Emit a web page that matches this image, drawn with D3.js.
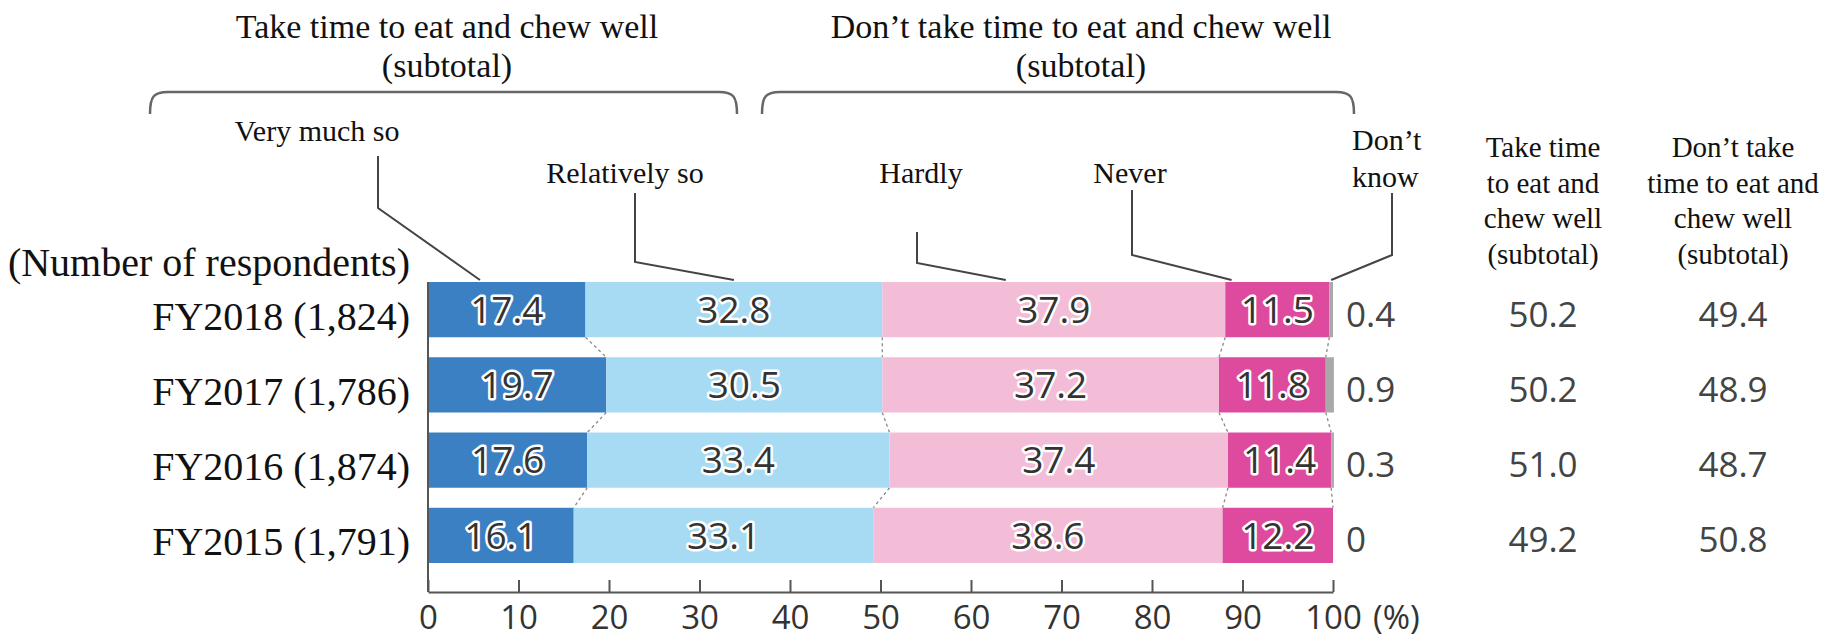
<!DOCTYPE html>
<html>
<head>
<meta charset="utf-8">
<script src="https://cdn.jsdelivr.net/npm/d3@7"></script>
<style>
body { margin: 0; background: #fff; }
.serif { font-family: "Times New Roman", "Liberation Serif", serif; fill: #111; }
.sans { font-family: "Open Sans", "Noto Sans", sans-serif; }
.barLabel { fill: #333; stroke: #fff; stroke-width: 5px; paint-order: stroke; stroke-linejoin: round; }
.leader { fill: none; stroke: #444; stroke-width: 2px; }
.bracket { fill: none; stroke: #666; stroke-width: 2.5px; }
</style>
</head>
<body>
<div id="chart"></div>
<script>
var years = ["FY2018 (1,824)", "FY2017 (1,786)", "FY2016 (1,874)", "FY2015 (1,791)"]

var seriesNames = ["Very much so", "Relatively so", "Hardly", "Never", "Don\u2019t know"]
var veryMuch = [17.4, 19.7, 17.6, 16.1]
var relatively = [32.8, 30.5, 33.4, 33.1]
var hardly = [37.9, 37.2, 37.4, 38.6]
var never = [11.5, 11.8, 11.4, 12.2]
var dontKnow = [0.4, 0.9, 0.3, 0]

var subtotalTake = [50.2, 50.2, 51.0, 49.2]
var subtotalDont = [49.4, 48.9, 48.7, 50.8]

var xTicks = [0, 10, 20, 30, 40, 50, 60, 70, 80, 90, 100]

var groupHeaders = ["Take time to eat and chew well", "Don\u2019t take time to eat and chew well"]
var colHeaders = [
	["Take time", "to eat and", "chew well", "(subtotal)"],
	["Don\u2019t take", "time to eat and", "chew well", "(subtotal)"]
]

function getColors(){
	return ["#3b80c3", "#a7dbf4", "#f3bdd8", "#de4a9e", "#a9a9a9"]
}

function fmt(v){
	return v === 0 ? "0" : v.toFixed(1)
}

function initChart(){
	var W = 1843, H = 643
	var svg = d3.select("#chart").append("svg").attr("width", W).attr("height", H)

	var x = d3.scaleLinear().domain([0, 100]).range([428, 1333])
	var y = d3.scaleBand().domain(years).range([282, 563]).paddingInner(0.266)
	var axisY = 592

	var seriesValues = [veryMuch, relatively, hardly, never, dontKnow]
	var rows = years.map(function(yr, i){
		var o = {year: yr}
		seriesNames.forEach(function(s, j){ o[s] = seriesValues[j][i] })
		return o
	})
	var stacked = d3.stack().keys(seriesNames)(rows)
	var colors = getColors()

	// dotted joins between bars
	var joins = svg.append("g")
	for(var k = 0; k < 4; k++){
		for(var i = 0; i < years.length - 1; i++){
			joins.append("line")
				.attr("x1", x(stacked[k][i][1]))
				.attr("y1", y(years[i]) + y.bandwidth())
				.attr("x2", x(stacked[k][i + 1][1]))
				.attr("y2", y(years[i + 1]))
				.style("stroke", "#888")
				.style("stroke-width", 1.3)
				.style("stroke-dasharray", "3,3")
		}
	}

	// bars
	var layers = svg.append("g").selectAll("g.layer")
		.data(stacked)
		.enter().append("g")
		.attr("class", "layer")
		.style("fill", function(d, i){ return colors[i] })

	layers.selectAll("rect")
		.data(function(d){ return d })
		.enter().append("rect")
		.attr("x", function(d){ return x(d[0]) })
		.attr("width", function(d){ return Math.max(0, x(d[1]) - x(d[0])) })
		.attr("y", function(d){ return y(d.data.year) })
		.attr("height", y.bandwidth())

	// in-bar labels
	layers.filter(function(d, i){ return i < 4 })
		.selectAll("text")
		.data(function(d){ return d })
		.enter().append("text")
		.attr("class", "sans barLabel")
		.attr("x", function(d){ return (x(d[0]) + x(d[1])) / 2 })
		.attr("y", function(d){ return y(d.data.year) + y.bandwidth() / 2 })
		.attr("dy", "0.36em")
		.attr("text-anchor", "middle")
		.style("font-size", "37px")
		.text(function(d){ return fmt(d[1] - d[0]) })

	// axis
	var axis = svg.append("g")
		.attr("transform", "translate(0," + axisY + ")")
		.call(d3.axisBottom(x).tickValues(xTicks).tickSize(-12).tickSizeOuter(0).tickPadding(14))
	axis.select(".domain").style("stroke", "#555").style("stroke-width", 2)
	axis.selectAll(".tick line").style("stroke", "#555").style("stroke-width", 2)
	axis.selectAll(".tick text")
		.attr("class", "sans")
		.style("font-size", "33px")
		.style("fill", "#333")
	svg.append("text")
		.attr("class", "sans")
		.attr("x", x(100) + 40)
		.attr("y", axisY + 14)
		.attr("dy", "0.71em")
		.style("font-size", "33px")
		.style("fill", "#333")
		.text("(%)")

	svg.append("line")
		.attr("x1", x(0)).attr("x2", x(0))
		.attr("y1", y.range()[0]).attr("y2", axisY)
		.style("stroke", "#555").style("stroke-width", 2)

	// row labels
	svg.append("text")
		.attr("class", "serif")
		.attr("x", 410).attr("y", 276)
		.attr("text-anchor", "end")
		.style("font-size", "40px")
		.text("(Number of respondents)")

	svg.append("g").selectAll("text")
		.data(years)
		.enter().append("text")
		.attr("class", "serif")
		.attr("x", 410)
		.attr("y", function(d){ return y(d) + y.bandwidth() / 2 + 20 })
		.attr("text-anchor", "end")
		.style("font-size", "40px")
		.text(function(d){ return d })

	// don't know values and subtotals
	var valueY = function(i){ return y(years[i]) + y.bandwidth() / 2 + 17 }
	svg.append("g").selectAll("text")
		.data(dontKnow)
		.enter().append("text")
		.attr("class", "sans")
		.attr("x", x(100) + 13)
		.attr("y", function(d, i){ return valueY(i) })
		.style("font-size", "35px")
		.style("fill", "#444")
		.text(fmt)

	var colX = [1543, 1733]
	;[subtotalTake, subtotalDont].forEach(function(vals, c){
		svg.append("g").selectAll("text")
			.data(vals)
			.enter().append("text")
			.attr("class", "sans")
			.attr("x", colX[c])
			.attr("y", function(d, i){ return valueY(i) })
			.attr("text-anchor", "middle")
			.style("font-size", "35px")
			.style("fill", "#444")
			.text(fmt)

		var hd = svg.append("text")
			.attr("class", "serif")
			.attr("text-anchor", "middle")
			.style("font-size", "29px")
		colHeaders[c].forEach(function(line, li){
			hd.append("tspan").attr("x", colX[c]).attr("y", 157 + li * 35.5).text(line)
		})
	})

	// group brackets and headers
	var brackets = [[150, 737], [762, 1354]]
	var headerX = [447, 1081]
	brackets.forEach(function(b, i){
		var x0 = b[0], x1 = b[1], top = 92, bot = 114
		svg.append("path")
			.attr("class", "bracket")
			.attr("d", "M" + x0 + "," + bot + " C" + x0 + "," + (top + 4) + " " + (x0 + 4) + "," + top + " " + (x0 + 18) + "," + top +
				" L" + (x1 - 18) + "," + top + " C" + (x1 - 4) + "," + top + " " + x1 + "," + (top + 4) + " " + x1 + "," + bot)
		var t = svg.append("text")
			.attr("class", "serif")
			.attr("text-anchor", "middle")
			.style("font-size", "34px")
		t.append("tspan").attr("x", headerX[i]).attr("y", 38).text(groupHeaders[i])
		t.append("tspan").attr("x", headerX[i]).attr("y", 77).text("(subtotal)")
	})

	// category labels with leader lines (layout only)
	var leaders = [
		{lines: ["Very much so"], tx: 317, ty: 141, anchor: "middle", lx: 378, ly1: 156, ly2: 208, frac: 0.33},
		{lines: ["Relatively so"], tx: 625, ty: 183, anchor: "middle", lx: 635, ly1: 193, ly2: 262, frac: 0.5},
		{lines: ["Hardly"], tx: 921, ty: 183, anchor: "middle", lx: 917, ly1: 232, ly2: 263, frac: 0.36},
		{lines: ["Never"], tx: 1130, ty: 183, anchor: "middle", lx: 1132, ly1: 190, ly2: 255, frac: 0.06},
		{lines: ["Don\u2019t", "know"], tx: 1352, ty: 150, anchor: "start", lx: 1392, ly1: 193, ly2: 255, frac: 0.5}
	]
	leaders.forEach(function(L, s){
		var seg = stacked[s][0]
		var tx = x(seg[0] + (seg[1] - seg[0]) * L.frac)
		var ty = y(years[0]) - 2
		svg.append("path")
			.attr("class", "leader")
			.attr("d", "M" + L.lx + "," + L.ly1 + " L" + L.lx + "," + L.ly2 + " L" + tx + "," + ty)
		var t = svg.append("text")
			.attr("class", "serif")
			.attr("text-anchor", L.anchor)
			.style("font-size", "30px")
		L.lines.forEach(function(line, li){
			t.append("tspan").attr("x", L.tx).attr("y", L.ty + li * 37).text(line)
		})
	})
}

initChart()
</script>
</body>
</html>
